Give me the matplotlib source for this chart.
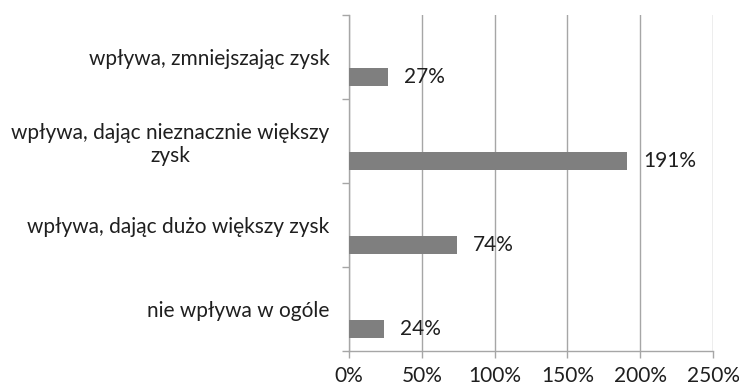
import matplotlib
matplotlib.use("Agg")
import matplotlib.pyplot as plt
from matplotlib.ticker import FixedLocator

plt.rcParams['font.family'] = ['Lato', 'DejaVu Sans']

categories = [
    "nie wpływa w ogóle",
    "wpływa, dając dużo większy zysk",
    "wpływa, dając nieznacznie większy\nzysk",
    "wpływa, zmniejszając zysk",
]
values = [24, 74, 191, 27]
x_ticks = [0, 50, 100, 150, 200, 250]

text_color = "#1f1f1f"
bar_color = "#7f7f7f"
grid_color = "#a6a6a6"
fs = 15

fig = plt.figure(figsize=(7.39, 3.90), dpi=100)
ax = fig.add_axes([349 / 739, 39 / 390, 364 / 739, 336 / 390])

pos = list(range(len(categories)))
bar_offset = -0.238
bar_h = 0.214
bar_y = [p + bar_offset for p in pos]
ax.barh(bar_y, values, height=bar_h, color=bar_color, zorder=3)

for y, v in zip(bar_y, values):
    ax.annotate(f"{v}%", xy=(v, y), xytext=(11.5, 0), textcoords="offset points",
                ha="left", va="center", fontsize=fs, color=text_color)

ax.set_xlim(0, 250)
ax.set_ylim(-0.5, len(categories) - 0.5)

ax.set_xticks(x_ticks)
ax.set_xticklabels([f"{t}%" for t in x_ticks], fontsize=fs, color=text_color)
ax.set_yticks(pos)
ax.set_yticklabels(categories, fontsize=fs, color=text_color)
for t in ax.get_yticklabels():
    t.set_multialignment("center")
ax.yaxis.set_minor_locator(FixedLocator([p - 0.5 for p in pos] + [len(pos) - 0.5]))

ax.tick_params(axis="y", which="major", length=0, pad=14)
ax.tick_params(axis="y", which="minor", length=5, width=1, color=grid_color, direction="out")
ax.tick_params(axis="x", which="major", length=5, width=1, color=grid_color, direction="out", pad=6)

ax.grid(axis="x", color=grid_color, linewidth=1, zorder=0)
for side in ("top", "right"):
    ax.spines[side].set_visible(False)
for side in ("left", "bottom"):
    ax.spines[side].set_color(grid_color)
    ax.spines[side].set_linewidth(1)

fig.savefig("out.png", dpi=100)
